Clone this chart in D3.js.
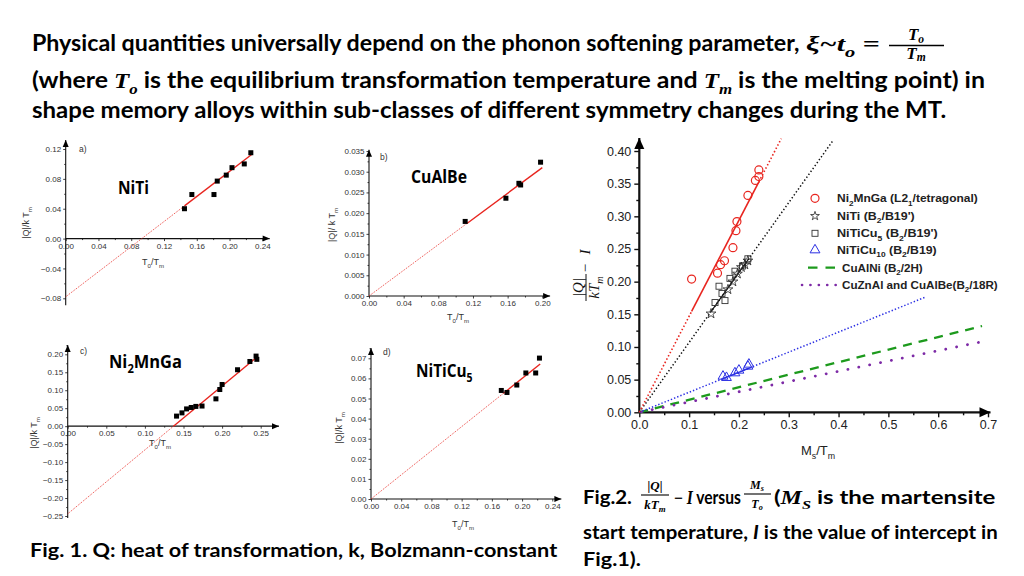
<!DOCTYPE html>
<html><head><meta charset="utf-8">
<script src="https://cdn.jsdelivr.net/npm/d3@7/dist/d3.min.js"></script>
<style>html,body{margin:0;padding:0;background:#fff;overflow:hidden}svg{display:block}</style>
</head><body>
<svg id="chart" width="1024" height="576"></svg>
<script>
// ================= DATA =================
// Fig.1 a) NiTi : |Q|/kTm vs T0/Tm
const nitiT0 = [0.145, 0.154, 0.181, 0.185, 0.196, 0.203, 0.218, 0.226];
const nitiQ  = [0.040, 0.059, 0.059, 0.077, 0.085, 0.095, 0.100, 0.115];
const nitiFit = [-0.078, 0.84, 0.145, 0.227];          // intercept, slope, solid from, solid to
const nitiXTicks = [0, 0.04, 0.08, 0.12, 0.16, 0.20, 0.24];
const nitiYTicks = [-0.08, -0.04, 0, 0.04, 0.08, 0.12];
// Fig.1 b) CuAlBe
const cualbeT0 = [0.111, 0.158, 0.173, 0.175, 0.198];
const cualbeQ  = [0.0180, 0.0236, 0.0272, 0.0268, 0.0323];
const cualbeFit = [0, 0.155, 0.113, 0.200];
const cualbeXTicks = [0, 0.04, 0.08, 0.12, 0.16, 0.20];
const cualbeYTicks = [0, 0.005, 0.010, 0.015, 0.020, 0.025, 0.030, 0.035];
// Fig.1 c) Ni2MnGa
const nimngaT0 = [0.141, 0.148, 0.154, 0.160, 0.166, 0.174, 0.192, 0.197, 0.200, 0.220, 0.236, 0.244, 0.245];
const nimngaQ  = [0.028, 0.037, 0.048, 0.052, 0.055, 0.056, 0.076, 0.102, 0.116, 0.157, 0.180, 0.195, 0.186];
const nimngaFit = [-0.244, 1.78, 0.137, 0.245];
const nimngaXTicks = [0, 0.05, 0.10, 0.15, 0.20, 0.25];
const nimngaYTicks = [-0.25, -0.20, -0.15, -0.10, -0.05, 0, 0.05, 0.10, 0.15, 0.20];
// Fig.1 d) NiTiCu5
const niticuT0 = [0.1725, 0.180, 0.193, 0.205, 0.218, 0.223];
const niticuQ  = [0.054, 0.053, 0.0567, 0.0627, 0.0627, 0.0701];
const niticuFit = [0, 0.30, 0.175, 0.224];
const niticuXTicks = [0, 0.04, 0.08, 0.12, 0.16, 0.20, 0.24];
const niticuYTicks = [0, 0.01, 0.02, 0.03, 0.04, 0.05, 0.06, 0.07];

// Fig.2 : |Q|/kTm - I vs Ms/Tm
const mnMs = [0.105, 0.157, 0.163, 0.171, 0.188, 0.194, 0.196, 0.218, 0.233, 0.240, 0.240];
const mnQ  = [0.204, 0.213, 0.226, 0.232, 0.252, 0.278, 0.292, 0.332, 0.355, 0.361, 0.371];
const nitiMs = [0.144, 0.178, 0.188, 0.197, 0.205, 0.212, 0.218];
const nitiQI = [0.151, 0.188, 0.200, 0.212, 0.222, 0.226, 0.232];
const cu5Ms = [0.152, 0.160, 0.166, 0.172, 0.182, 0.192, 0.207, 0.218];
const cu5Q  = [0.168, 0.193, 0.182, 0.171, 0.205, 0.216, 0.224, 0.235];
const cu10Ms = [0.168, 0.175, 0.192, 0.200, 0.218, 0.220];
const cu10Q  = [0.0551, 0.0531, 0.0602, 0.0643, 0.0704, 0.0735];
// slope, dotted to, solid from, solid to
const mnLine   = [1.47, 0.285, 0.105, 0.240];
const nitiLine = [1.07, 0.389, 0.144, 0.220];
const cu10Line = [0.307, 0.5725, 0.168, 0.222];
const cualniLine = [0.192, 0.688];
const cuznalLine = [0.157, 0.686];
const fig2XTicks = [0, 0.1, 0.2, 0.3, 0.4, 0.5, 0.6, 0.7];
const fig2YTicks = [0, 0.05, 0.10, 0.15, 0.20, 0.25, 0.30, 0.35, 0.40];
const legendLabels = [
  [['Ni'], ['2', 1], ['MnGa (L2'], ['1', 1], ['/tetragonal)']],
  [['NiTi (B'], ['2', 1], ['/B19\')']],
  [['NiTiCu'], ['5', 1], [' (B'], ['2', 1], ['/B19\')']],
  [['NiTiCu'], ['10', 1], [' (B'], ['2', 1], ['/B19)']],
  [['CuAlNi (B'], ['2', 1], ['/2H)']],
  [['CuZnAl and CuAlBe(B'], ['2', 1], ['/18R)']]
];

// ================= DRAWING =================
const svg = d3.select('#chart');
const SANS = "'Liberation Sans', Arial, sans-serif";
const TITLEF = "Lato, 'Open Sans', 'DejaVu Sans', sans-serif";
const SERIF = "'Liberation Serif', 'DejaVu Serif', serif";
const RED = '#e8251f', BLUE = '#2b2fe3', GREEN = '#1d9a1d', PURPLE = '#7d2aa6';

function rich(t, parts, base, subK) {
  let shifted = 0;
  const k = subK == null ? 0.28 : subK;
  parts.forEach(p => {
    const ts = t.append('tspan').text(p.t);
    const want = p.sub ? base * k : 0;
    ts.attr('dy', want - shifted); shifted = want;
    if (p.sub) ts.attr('font-size', base * 0.68);
    if (p.f) ts.attr('font-family', p.f);
    if (p.i) ts.attr('font-style', 'italic');
  });
}
function fitX(g, x0, x1) {
  const bb = g.node().getBBox();
  const s = (x1 - x0) / bb.width;
  g.attr('transform', `translate(${x0},0) scale(${s},1) translate(${-bb.x},0)`);
}
function textGroup(x0, x1, y, fs, family, weight, parts, fill, parent) {
  const g = (parent || svg).append('g');
  const t = g.append('text').attr('x', 0).attr('y', y).attr('font-size', fs)
    .attr('font-family', family).attr('font-weight', weight).attr('fill', fill || '#000');
  rich(t, parts, fs);
  fitX(g, x0, x1);
  return g;
}
function plainText(x, y, fs, family, weight, parts, anchor, style, subK) {
  const t = svg.append('text').attr('x', x).attr('y', y).attr('font-size', fs)
    .attr('font-family', family).attr('font-weight', weight).attr('fill', '#000')
    .attr('text-anchor', anchor || 'start');
  if (style) t.attr('font-style', style);
  rich(t, parts, fs, subK);
  return t;
}

// ---------- Title ----------
textGroup(32, 800, 51, 22, TITLEF, 700, [{t: 'Physical quantities universally depend on the phonon softening parameter,'}]);
textGroup(806, 880, 51, 21, SERIF, 700, [{t: 'ξ~', i: 1}, {t: 't', i: 1}, {t: 'o', i: 1, sub: 1}, {t: ' ='}]);
plainText(916, 40, 17, SERIF, 700, [{t: 'T'}, {t: 'o', sub: 1}], 'middle', 'italic', 0.2);
svg.append('line').attr('x1', 889).attr('x2', 944).attr('y1', 45.5).attr('y2', 45.5).attr('stroke', '#000').attr('stroke-width', 1.3);
plainText(916, 59, 17, SERIF, 700, [{t: 'T'}, {t: 'm', sub: 1}], 'middle', 'italic', 0.12);
textGroup(32, 985, 88, 22, TITLEF, 700, [{t: '(where '}, {t: 'T', f: SERIF, i: 1}, {t: 'o', f: SERIF, i: 1, sub: 1},
  {t: ' is the equilibrium transformation temperature and '}, {t: 'T', f: SERIF, i: 1}, {t: 'm', f: SERIF, i: 1, sub: 1},
  {t: ' is the melting point) in'}]);
textGroup(32, 947, 118, 22, TITLEF, 700, [{t: 'shape memory alloys within sub-classes of different symmetry changes during the MT.'}]);

// ---------- Captions ----------
textGroup(30, 558, 557, 18, TITLEF, 700, [{t: 'Fig. 1. Q: heat of transformation, k, Bolzmann-constant'}]);
textGroup(583, 632, 504, 18, TITLEF, 700, [{t: 'Fig.2.'}]);
plainText(655, 490, 13, SERIF, 700, [{t: '|Q|'}], 'middle', 'italic');
svg.append('line').attr('x1', 641).attr('x2', 669).attr('y1', 495).attr('y2', 495).attr('stroke', '#000').attr('stroke-width', 1.1);
plainText(655, 509, 13, SERIF, 700, [{t: 'kT'}, {t: 'm', sub: 1}], 'middle', 'italic', 0.2);
textGroup(674, 741, 504, 18, TITLEF, 700, [{t: '−', f: SERIF}, {t: ' '}, {t: 'I', f: SERIF, i: 1}, {t: ' versus'}]);
plainText(757, 489, 12, SERIF, 700, [{t: 'M'}, {t: 's', sub: 1}], 'middle', 'italic', 0.2);
svg.append('line').attr('x1', 744).attr('x2', 771).attr('y1', 494).attr('y2', 494).attr('stroke', '#000').attr('stroke-width', 1.1);
plainText(757, 508, 12, SERIF, 700, [{t: 'T'}, {t: 'o', sub: 1}], 'middle', 'italic', 0.2);
textGroup(774, 996, 504, 18, TITLEF, 700, [{t: '('}, {t: 'M', f: SERIF, i: 1}, {t: 'S', f: SERIF, i: 1, sub: 1}, {t: ' is the martensite'}]);
textGroup(583, 998, 539, 18, TITLEF, 700, [{t: 'start temperature, '}, {t: 'I', i: 1}, {t: ' is the value of intercept in'}]);
textGroup(583, 641, 566, 18, TITLEF, 700, [{t: 'Fig.1).'}]);

// ---------- generic axes ----------
function minorOf(ticks, hi) {
  const step = ticks[1] - ticks[0];
  const out = [];
  for (let i = 0; i < ticks.length; i++) {
    const m = ticks[i] + step / 2;
    if (m <= hi + 1e-9) out.push(m);
  }
  return out;
}
function drawAxes(g, x, y, o) {
  const X0 = x(0), Y0 = y(0);
  const ax = d3.axisBottom(x).tickValues(o.xt).tickFormat(d3.format(o.fx)).tickSize(o.maj).tickPadding(o.pad);
  const gx = g.append('g').attr('transform', `translate(0,${Y0})`).call(ax);
  const gxm = g.append('g').attr('transform', `translate(0,${Y0})`)
    .call(d3.axisBottom(x).tickValues(minorOf(o.xt, o.xHi)).tickFormat('').tickSize(o.min));
  const ay = d3.axisLeft(y).tickValues(o.yt).tickFormat(d3.format(o.fy)).tickSize(o.maj).tickPadding(o.pad);
  const gy = g.append('g').attr('transform', `translate(${X0},0)`).call(ay);
  const gym = g.append('g').attr('transform', `translate(${X0},0)`)
    .call(d3.axisLeft(y).tickValues(minorOf(o.yt, o.yHi)).tickFormat('').tickSize(o.min));
  [gx, gxm, gy, gym].forEach(s => {
    s.select('.domain').remove();
    s.attr('font-family', SANS).attr('font-size', o.fs);
    s.selectAll('line').attr('stroke', '#111').attr('stroke-width', o.tw);
    s.selectAll('text').attr('fill', o.tc);
  });
  g.append('line').attr('x1', X0).attr('x2', x(o.xHi)).attr('y1', Y0).attr('y2', Y0)
    .attr('stroke', '#111').attr('stroke-width', o.aw);
  g.append('line').attr('x1', X0).attr('x2', X0).attr('y1', y(o.yLo)).attr('y2', y(o.yHi))
    .attr('stroke', '#111').attr('stroke-width', o.aw);
  const L = o.al, W = o.awid;
  const xe = x(o.xHi), ye = y(o.yHi);
  g.append('path').attr('d', `M${xe},${Y0}L${xe - L},${Y0 - W}L${xe - L},${Y0 + W}Z`).attr('fill', '#000');
  g.append('path').attr('d', `M${X0},${ye}L${X0 - W},${ye + L}L${X0 + W},${ye + L}Z`).attr('fill', '#000');
}

// ---------- Fig.1 small panels ----------
function drawPanel(L, xs, ys, fit, xt, yt) {
  const g = svg.append('g');
  const x = d3.scaleLinear().domain([xt[0], xt[xt.length - 1]]).range(L.xr);
  const y = d3.scaleLinear().domain([yt[0], yt[yt.length - 1]]).range(L.yr);
  drawAxes(g, x, y, {xt, yt, fx: '.2f', fy: L.fy, maj: 2.5, min: 1.5, pad: 2, fs: 8, tw: 0.8, aw: 1.1,
    tc: '#333', xHi: L.xHi, yLo: L.yLo, yHi: L.yHi, al: 7, awid: 3});
  const line = d3.line().x(d => x(d)).y(d => y(fit[0] + fit[1] * d));
  g.append('path').attr('d', line([0, fit[2]])).attr('fill', 'none').attr('stroke', RED)
    .attr('stroke-width', 0.9).attr('stroke-dasharray', '1,1.2');
  g.append('path').attr('d', line([fit[2], fit[3]])).attr('fill', 'none').attr('stroke', RED).attr('stroke-width', 1.4);
  g.selectAll('rect.pt').data(xs).enter().append('rect').attr('class', 'pt')
    .attr('x', (d) => x(d) - 2.5).attr('y', (d, i) => y(ys[i]) - 2.5).attr('width', 5).attr('height', 5).attr('fill', '#000');
  const xl = svg.append('text').attr('x', L.xlab[0]).attr('y', L.xlab[1]).attr('font-size', 9)
    .attr('font-family', SANS).attr('fill', '#333').attr('text-anchor', 'middle');
  rich(xl, [{t: 'T'}, {t: '0', sub: 1}, {t: '/T'}, {t: 'm', sub: 1}], 9);
  const yl = svg.append('text').attr('transform', `translate(${L.ylab[0]},${L.ylab[1]}) rotate(-90)`)
    .attr('font-size', 9).attr('font-family', SANS).attr('fill', '#333').attr('text-anchor', 'middle');
  rich(yl, [{t: L.yq}, {t: 'm', sub: 1}], 9);
  svg.append('text').attr('x', L.tag[0]).attr('y', L.tag[1]).attr('font-size', 8.5).attr('font-family', SANS)
    .attr('fill', '#333').text(L.tag[2]);
  textGroup(L.name[0], L.name[1], L.name[2], 17, "'Open Sans', sans-serif", 700, L.nameParts);
}

drawPanel({xr: [65.7, 262.3], yr: [298.3, 149], fy: '.2f', xHi: 0.249, yLo: -0.0893, yHi: 0.132,
  xlab: [153, 265], ylab: [29, 223], yq: '|Q|/k T', tag: [79, 152, 'a)'], name: [118, 149, 194], nameParts: [{t: 'NiTi'}]},
  nitiT0, nitiQ, nitiFit, nitiXTicks, nitiYTicks);
drawPanel({xr: [369, 542.3], yr: [296, 151], fy: '.3f', xHi: 0.209, yLo: 0, yHi: 0.0353,
  xlab: [458, 320], ylab: [335, 225], yq: '|Q|/ k T', tag: [380, 160, 'b)'], name: [411, 467, 183], nameParts: [{t: 'CuAlBe'}]},
  cualbeT0, cualbeQ, cualbeFit, cualbeXTicks, cualbeYTicks);
drawPanel({xr: [67.7, 260.7], yr: [516, 354.3], fy: '.2f', xHi: 0.2737, yLo: -0.2556, yHi: 0.226,
  xlab: [160, 446], ylab: [37, 433], yq: '|Q|/k T', tag: [80, 354, 'c)'], name: [109, 182, 368], nameParts: [{t: 'Ni'}, {t: '2', sub: 1}, {t: 'MnGa'}]},
  nimngaT0, nimngaQ, nimngaFit, nimngaXTicks, nimngaYTicks);
drawPanel({xr: [371, 552.3], yr: [499, 358.3], fy: '.2f', xHi: 0.252, yLo: 0, yHi: 0.0751,
  xlab: [463, 527], ylab: [342, 428], yq: '|Q|/k T', tag: [383, 355, 'd)'], name: [416, 473, 377], nameParts: [{t: 'NiTiCu'}, {t: '5', sub: 1}]},
  niticuT0, niticuQ, niticuFit, niticuXTicks, niticuYTicks);

// ---------- Fig.2 ----------
(function () {
  const g = svg.append('g');
  const x = d3.scaleLinear().domain([0, 0.7]).range([639.3, 988]);
  const y = d3.scaleLinear().domain([0, 0.4]).range([412.3, 151]);
  drawAxes(g, x, y, {xt: fig2XTicks, yt: fig2YTicks, fx: '.1f', fy: '.2f', maj: 5, min: 3, pad: 3, fs: 12.5,
    tw: 1.4, aw: 2.2, tc: '#222', xHi: 0.705, yLo: 0, yHi: 0.42, al: 11, awid: 5});
  const seg = (s, a, b) => d3.line().x(d => x(d)).y(d => y(s * d))([a, b]);
  const addLine = (d, color, w, dash, cap) => {
    const p = g.append('path').attr('d', d).attr('fill', 'none').attr('stroke', color).attr('stroke-width', w);
    if (dash) p.attr('stroke-dasharray', dash);
    if (cap) p.attr('stroke-linecap', cap);
  };
  addLine(seg(cualniLine[0], 0, cualniLine[1]), GREEN, 2.3, '9,7');
  addLine(seg(cuznalLine[0], 0.004, cuznalLine[1]), PURPLE, 2.8, '0.1,11', 'round');
  addLine(seg(cu10Line[0], 0, cu10Line[1]), BLUE, 1.5, '1.4,2');
  addLine(seg(cu10Line[0], cu10Line[2], cu10Line[3]), BLUE, 1.3);
  addLine(seg(nitiLine[0], 0, nitiLine[1]), '#111', 1.5, '1.4,2.2');
  addLine(seg(nitiLine[0], nitiLine[2], nitiLine[3]), '#111', 1.2);
  addLine(seg(mnLine[0], 0, mnLine[2]), RED, 1.6, '1.5,2.2');
  addLine(seg(mnLine[0], mnLine[2], mnLine[3]), RED, 1.6);
  addLine(seg(mnLine[0], mnLine[3], mnLine[1]), RED, 1.6, '1.5,2.2');

  g.selectAll('rect.cu5').data(cu5Ms).enter().append('rect').attr('class', 'cu5')
    .attr('x', d => x(d) - 3).attr('y', (d, i) => y(cu5Q[i]) - 3).attr('width', 6).attr('height', 6)
    .attr('fill', 'none').attr('stroke', '#333').attr('stroke-width', 0.9);
  const star = d3.symbol(d3.symbolStar, 30);
  g.selectAll('path.st').data(nitiMs).enter().append('path').attr('class', 'st').attr('d', star)
    .attr('transform', (d, i) => `translate(${x(d)},${y(nitiQI[i])})`)
    .attr('fill', 'none').attr('stroke', '#222').attr('stroke-width', 0.8);
  const tri = d3.symbol(d3.symbolTriangle, 42);
  g.selectAll('path.tr').data(cu10Ms).enter().append('path').attr('class', 'tr').attr('d', tri)
    .attr('transform', (d, i) => `translate(${x(d)},${y(cu10Q[i])})`)
    .attr('fill', 'none').attr('stroke', BLUE).attr('stroke-width', 1);
  g.selectAll('circle.mn').data(mnMs).enter().append('circle').attr('class', 'mn')
    .attr('cx', d => x(d)).attr('cy', (d, i) => y(mnQ[i])).attr('r', 4)
    .attr('fill', 'none').attr('stroke', RED).attr('stroke-width', 1.2);

  const xl = svg.append('text').attr('x', 818).attr('y', 455).attr('font-size', 13).attr('font-family', SANS)
    .attr('fill', '#222').attr('text-anchor', 'middle');
  rich(xl, [{t: 'M'}, {t: 's', sub: 1}, {t: '/T'}, {t: 'm', sub: 1}], 13);
  const yg = svg.append('g').attr('transform', 'translate(590,283) rotate(-90)');
  yg.append('text').attr('x', -4.5).attr('y', -7).attr('text-anchor', 'middle').attr('font-size', 15)
    .attr('font-family', SERIF).attr('font-style', 'italic').attr('fill', '#111').text('|Q|');
  yg.append('line').attr('x1', -18).attr('x2', 9).attr('y1', -4).attr('y2', -4).attr('stroke', '#111').attr('stroke-width', 1);
  const yt2 = yg.append('text').attr('x', -4.5).attr('y', 9).attr('text-anchor', 'middle').attr('font-size', 15)
    .attr('font-family', SERIF).attr('font-style', 'italic').attr('fill', '#111');
  rich(yt2, [{t: 'kT'}, {t: 'm', sub: 1}], 15, 0.25);
  yg.append('text').attr('x', 15).attr('y', 0).attr('text-anchor', 'middle').attr('font-size', 15)
    .attr('font-family', SERIF).attr('fill', '#111').text('−');
  yg.append('text').attr('x', 31).attr('y', 0).attr('text-anchor', 'middle').attr('font-size', 15)
    .attr('font-family', SERIF).attr('font-style', 'italic').attr('fill', '#111').text('I');

  // legend
  const rows = [198.3, 216, 233.3, 250, 267.7, 285];
  const ends = [978, 915, 938, 937, 923, 998];
  const lg = svg.append('g');
  lg.append('circle').attr('cx', 815).attr('cy', rows[0]).attr('r', 4).attr('fill', 'none').attr('stroke', RED).attr('stroke-width', 1.2);
  lg.append('path').attr('d', d3.symbol(d3.symbolStar, 24)).attr('transform', `translate(815,${rows[1]})`)
    .attr('fill', 'none').attr('stroke', '#222').attr('stroke-width', 0.8);
  lg.append('rect').attr('x', 812).attr('y', rows[2] - 3).attr('width', 6).attr('height', 6)
    .attr('fill', 'none').attr('stroke', '#333').attr('stroke-width', 0.9);
  lg.append('path').attr('d', d3.symbol(d3.symbolTriangle, 42)).attr('transform', `translate(815,${rows[3]})`)
    .attr('fill', 'none').attr('stroke', BLUE).attr('stroke-width', 1);
  lg.append('line').attr('x1', 808).attr('x2', 836).attr('y1', rows[4]).attr('y2', rows[4])
    .attr('stroke', GREEN).attr('stroke-width', 2.3).attr('stroke-dasharray', '9.5,8');
  lg.append('line').attr('x1', 802).attr('x2', 836).attr('y1', rows[5]).attr('y2', rows[5])
    .attr('stroke', PURPLE).attr('stroke-width', 2.6).attr('stroke-dasharray', '0.1,8.3').attr('stroke-linecap', 'round');
  legendLabels.forEach((parts, i) => {
    textGroup(i < 4 ? 837 : 842, ends[i], rows[i] + 4.2, 11.5, SANS, 700,
      parts.map(p => ({t: p[0], sub: !!p[1]})), '#222', lg);
  });
})();
</script>
</body></html>
